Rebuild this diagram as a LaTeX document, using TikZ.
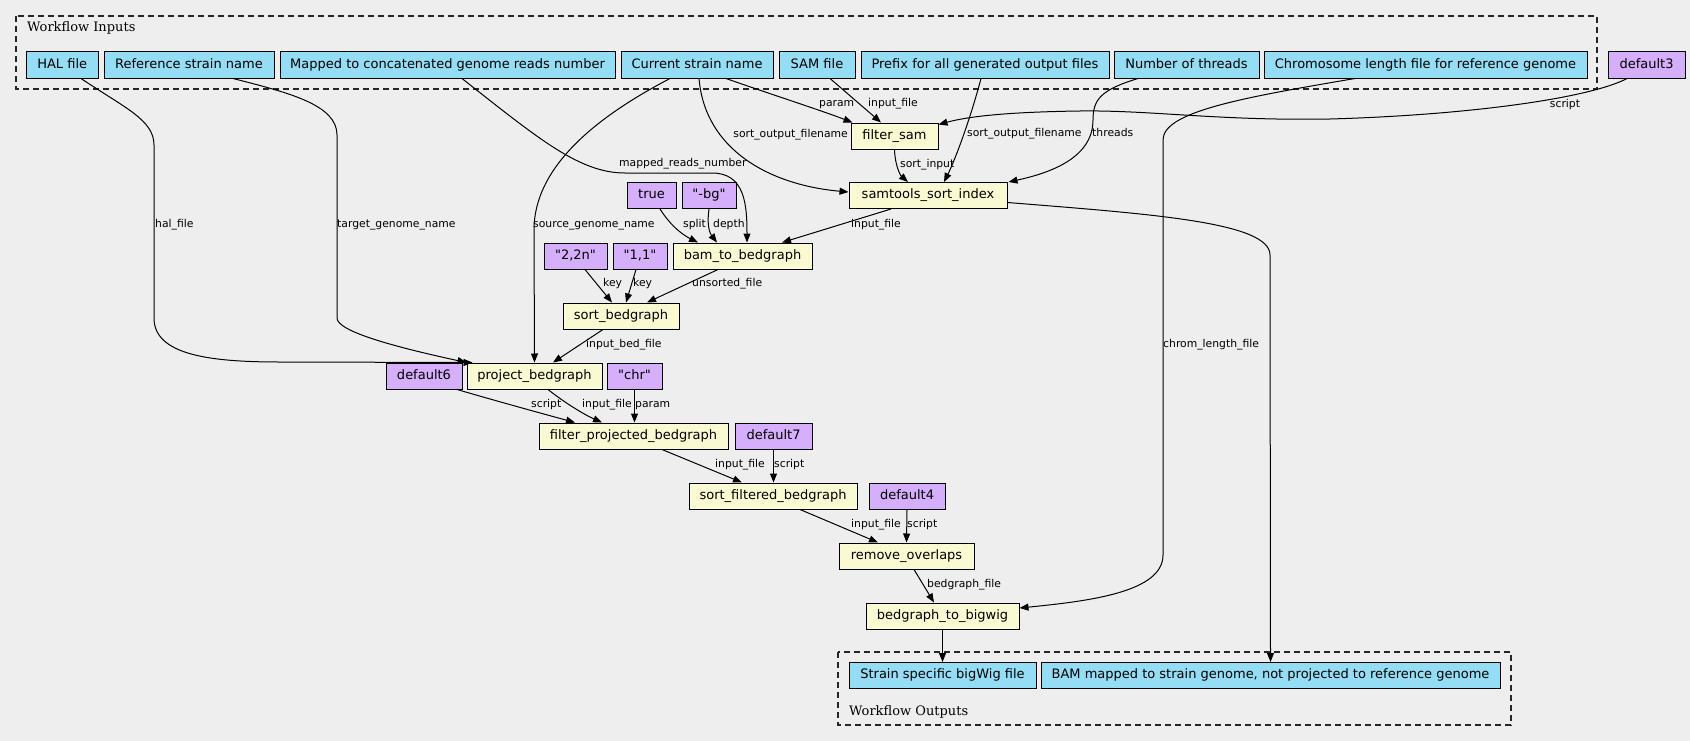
\documentclass[tikz,border=0pt]{standalone}
\usepackage{fontspec}
\newfontfamily\sansf{DejaVu Sans}
\newfontfamily\serifclu{DejaVu Serif}
\usetikzlibrary{arrows.meta}
\definecolor{bgc}{HTML}{EEEEEE}
\definecolor{inc}{HTML}{94DDF4}
\definecolor{stepc}{HTML}{FAFAD2}
\definecolor{defc}{HTML}{D5AEFC}
\begin{document}
\begin{tikzpicture}[x=1bp,y=-1bp,
 box/.style={draw=black, line width=1bp, minimum height=26bp, inner sep=0pt,
   text height=9.5bp, text depth=2.6bp, font=\sansf\fontsize{13bp}{15bp}\selectfont},
 iobox/.style={box, fill=inc},
 stepbox/.style={box, fill=stepc},
 defbox/.style={box, fill=defc},
 edge/.style={draw=black, line width=1bp, -{Triangle[length=9bp,width=7bp]}},
 elab/.style={font=\sansf\fontsize{10.8bp}{12bp}\selectfont, inner sep=0pt, anchor=west,
   text height=8bp, text depth=2.2bp},
 clu/.style={draw=black!85, line width=1.2bp, dash pattern=on 6bp off 4bp},
 clulab/.style={font=\serifclu\fontsize{13bp}{15bp}\selectfont, inner sep=0pt, anchor=west}]

\fill[bgc] (0,0) rectangle (1690,741);
\useasboundingbox (0,0) rectangle (1690,741);

% clusters
\draw[clu] (16,16) rectangle (1597,89);
\node[clulab] (inlab) at (27,28) {Workflow Inputs};
\draw[clu] (838,652) rectangle (1511,725);
\node[clulab] (outlab) at (849,712) {Workflow Outputs};

% inputs
\node[iobox, minimum width=71.5bp] (hal) at (62.25,65) {HAL file};
\node[iobox, minimum width=170bp] (ref) at (189,65) {Reference strain name};
\node[iobox, minimum width=335bp] (mapped) at (447.5,65) {Mapped to concatenated genome reads number};
\node[iobox, minimum width=152bp] (cur) at (697,65) {Current strain name};
\node[iobox, minimum width=76bp] (sam) at (817,65) {SAM file};
\node[iobox, minimum width=248bp] (prefix) at (985,65) {Prefix for all generated output files};
\node[iobox, minimum width=145bp] (threads) at (1186.5,65) {Number of threads};
\node[iobox, minimum width=323bp] (chrom) at (1425.5,65) {Chromosome length file for reference genome};
\node[defbox, minimum width=77bp] (dthree) at (1646.5,65) {default3};

% steps and defaults
\node[stepbox, minimum width=87bp] (fsam) at (894.5,136) {filter\_sam};
\node[stepbox, minimum width=158bp] (sorti) at (928,195.5) {samtools\_sort\_index};
\node[defbox, minimum width=49bp] (vtrue) at (651.5,195.5) {true};
\node[defbox, minimum width=54bp] (vbg) at (709,195.5) {"-bg"};
\node[defbox, minimum width=63bp] (v22n) at (575.5,256) {"2,2n"};
\node[defbox, minimum width=54bp] (v11) at (640,256) {"1,1"};
\node[stepbox, minimum width=139bp] (bam) at (742.5,256) {bam\_to\_bedgraph};
\node[stepbox, minimum width=116bp] (sortbed) at (621,316) {sort\_bedgraph};
\node[defbox, minimum width=76bp] (dsix) at (424,376) {default6};
\node[stepbox, minimum width=135bp] (proj) at (534.5,376) {project\_bedgraph};
\node[defbox, minimum width=55bp] (vchr) at (634.5,376) {"chr"};
\node[stepbox, minimum width=189bp] (fproj) at (633.5,436) {filter\_projected\_bedgraph};
\node[defbox, minimum width=77bp] (dseven) at (773.5,436) {default7};
\node[stepbox, minimum width=168bp] (sortf) at (773,496) {sort\_filtered\_bedgraph};
\node[defbox, minimum width=76bp] (dfour) at (907,496) {default4};
\node[stepbox, minimum width=135bp] (remov) at (906.5,556) {remove\_overlaps};
\node[stepbox, minimum width=153bp] (bigwig) at (942.5,616) {bedgraph\_to\_bigwig};

% outputs
\node[iobox, minimum width=187bp] (outbw) at (942.5,675.5) {Strain specific bigWig file};
\node[iobox, minimum width=459bp] (outbam) at (1270.5,675.5) {BAM mapped to strain genome, not projected to reference genome};

% edges
\draw[edge] ([xshift=18.75bp]hal.south) .. controls (125,108) and (154,120) .. (154,145)
  -- (154,318) .. controls (154,355) and (210,362) .. (280,362) -- ([xshift=6bp]proj.north west);
\node[elab] (l1) at (155,225) {hal\_file};

\draw[edge] ([xshift=44bp]ref.south) .. controls (290,93) and (337,105) .. (337,135)
  -- (337,318) .. controls (337,332) and (400,348) .. ([xshift=0bp]proj.north west);
\node[elab] (l2) at (337,225) {target\_genome\_name};

\draw[edge] ([xshift=14.5bp]mapped.south) .. controls (540,140) and (580,173) .. (625,173)
  -- (712,173) .. controls (745,173) and (747,205) .. ([xshift=4.5bp]bam.north);
\node[elab] (l3) at (619,164) {mapped\_reads\_number};

\draw[edge] ([xshift=-27bp]cur.south) .. controls (600,115) and (534,165) .. (534,230) -- (proj.north);
\node[elab] (l4) at (533,225) {source\_genome\_name};

\draw[edge] ([xshift=2bp]cur.south) .. controls (705,150) and (770,185) .. ([yshift=3.5bp]sorti.west);
\node[elab, anchor=east] (l5) at (848,135) {sort\_output\_filename};

\draw[edge] ([xshift=29bp]cur.south) .. controls (770,94) and (820,110) .. ([xshift=2bp]fsam.north west);
\node[elab] (l6) at (819,104) {param};

\draw[edge] ([xshift=13bp]sam.south) -- ([xshift=-13.5bp]fsam.north);
\node[elab] (l7) at (868,104) {input\_file};

\draw[edge] ([xshift=-4bp]prefix.south) .. controls (970,120) and (955,160) .. ([xshift=16bp]sorti.north);
\node[elab] (l8) at (967,134) {sort\_output\_filename};

\draw[edge] ([xshift=-48.5bp]threads.south) .. controls (1100,90) and (1093,100) .. (1093,120)
  .. controls (1093,160) and (1045,174) .. ([xshift=1bp]sorti.north east);
\node[elab] (l9) at (1092,134) {threads};

\draw[edge] (fsam.south) .. controls (895,165) and (900,175) .. ([xshift=-20bp]sorti.north);
\node[elab] (l10) at (900,165) {sort\_input};

\draw[edge] ([xshift=-19.5bp]dthree.south) .. controls (1590,98) and (1470,115) .. (1330,119)
  .. controls (1220,121) and (1150,110) .. (1080,111) .. controls (1010,112) and (970,116) .. ([yshift=-2bp]fsam.north east);
\node[elab, anchor=center] (l11) at (1565,105) {script};

\draw[edge] ([xshift=-37bp]sorti.south) -- ([xshift=39.5bp]bam.north);
\node[elab] (l12) at (851,225) {input\_file};

\draw[edge] ([xshift=8.5bp]vtrue.south) .. controls (672,228) and (685,236) .. ([xshift=-44.5bp]bam.north);
\node[elab] (l13) at (683,225) {split};

\draw[edge] (vbg.south) .. controls (706,230) and (712,236) .. ([xshift=-25.5bp]bam.north);
\node[elab] (l14) at (713,225) {depth};

\draw[edge] ([xshift=9.5bp]v22n.south) -- ([xshift=-9bp]sortbed.north);
\node[elab] (l15) at (603,284) {key};
\draw[edge] ([xshift=-4bp]v11.south) -- ([xshift=5bp]sortbed.north);
\node[elab] (l16) at (633,284) {key};
\draw[edge] ([xshift=-24.5bp]bam.south) -- ([xshift=26bp]sortbed.north);
\node[elab] (l17) at (692,284) {unsorted\_file};

\draw[edge] ([xshift=-18bp]sortbed.south) -- ([xshift=18.5bp]proj.north);
\node[elab] (l18) at (586,345) {input\_bed\_file};

\draw[edge] ([xshift=33bp]dsix.south) .. controls (500,402) and (540,413) .. ([xshift=-58.5bp]fproj.north);
\node[elab] (l19) at (531,405) {script};
\draw[edge] ([xshift=13.5bp]proj.south) .. controls (565,403) and (585,415) .. ([xshift=-31.5bp]fproj.north);
\node[elab] (l20) at (582,405) {input\_file};
\draw[edge] (vchr.south) -- ([xshift=1bp]fproj.north);
\node[elab] (l21) at (635,405) {param};

\draw[edge] ([xshift=28.5bp]fproj.south) -- ([xshift=-31bp]sortf.north);
\node[elab] (l22) at (715,465) {input\_file};
\draw[edge] (dseven.south) -- ([xshift=0.5bp]sortf.north);
\node[elab] (l23) at (774,465) {script};

\draw[edge] ([xshift=27bp]sortf.south) -- ([xshift=-28.5bp]remov.north);
\node[elab] (l24) at (851,525) {input\_file};
\draw[edge] (dfour.south) -- (remov.north);
\node[elab] (l25) at (907,525) {script};

\draw[edge] ([xshift=7.5bp]remov.south) -- ([xshift=-8.5bp]bigwig.north);
\node[elab] (l26) at (927,585) {bedgraph\_file};

\draw[edge] ([xshift=-70.5bp]chrom.south) .. controls (1240,98) and (1163,112) .. (1163,140)
  -- (1163,555) .. controls (1163,592) and (1090,601) .. ([yshift=8bp]bigwig.east);
\node[elab] (l27) at (1163,345) {chrom\_length\_file};

\draw[edge] ([yshift=-7bp]sorti.east) .. controls (1150,214) and (1270,222) .. (1270,255) -- (outbam.north);

\draw[edge] (bigwig.south) -- (outbw.north);
\end{tikzpicture}
\end{document}
